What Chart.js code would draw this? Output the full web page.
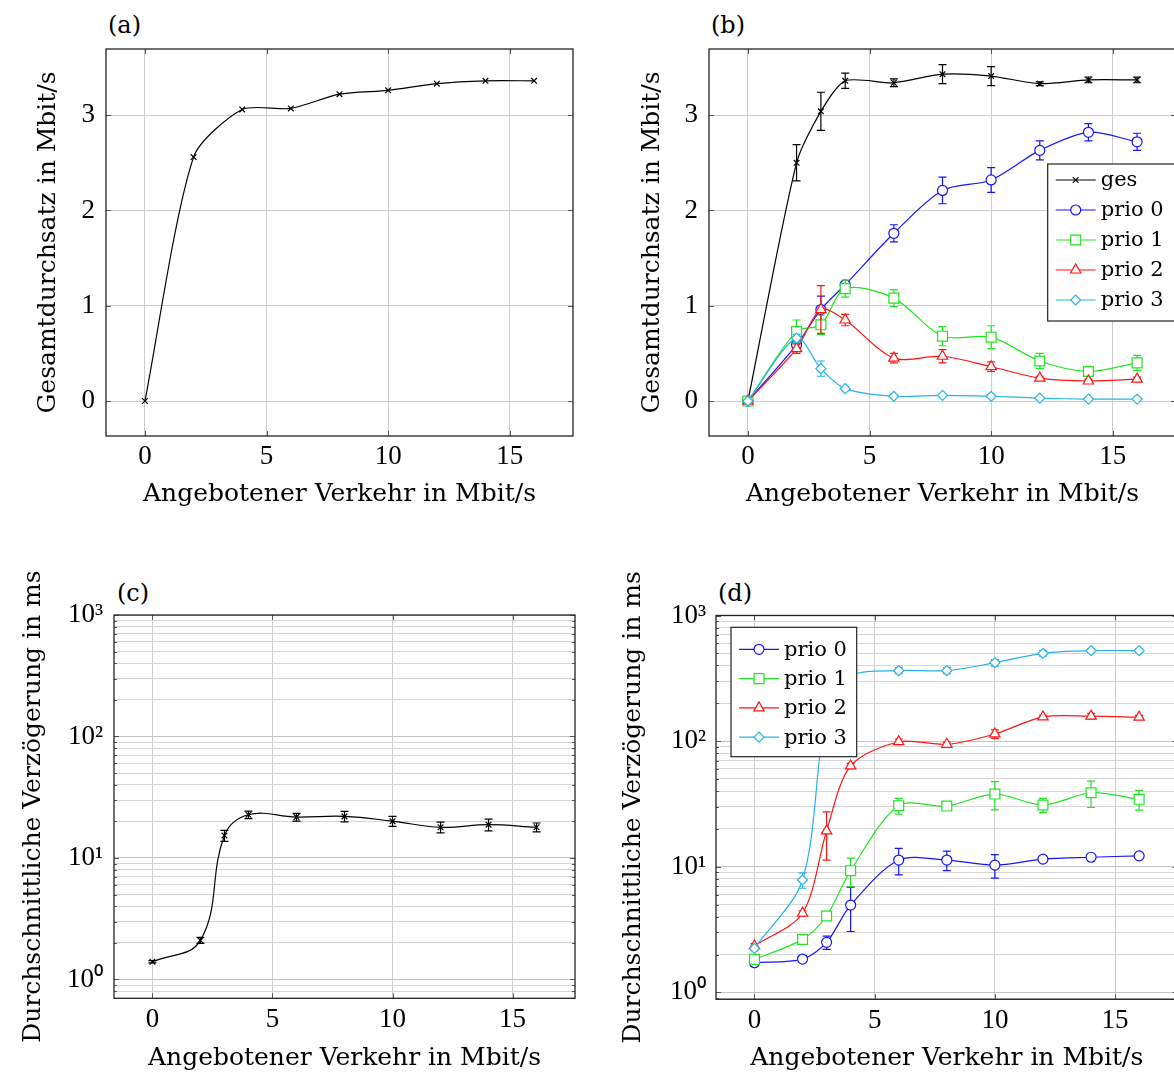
<!DOCTYPE html>
<html>
<head>
<meta charset="utf-8">
<script src="https://cdn.jsdelivr.net/npm/chart.js@4.4.1/dist/chart.umd.min.js"></script>
<style>
  html, body { margin: 0; padding: 0; background: #fff; overflow: hidden; }
  body { width: 1174px; height: 1075px; position: relative; }
  canvas { position: absolute; }
  .tag { position: absolute; font-family: 'DejaVu Serif'; font-size: 24px; line-height: 1; color: #000; }
</style>
</head>
<body>
<div class="tag" style="left:108px;top:13px">(a)</div>
<div class="tag" style="left:711px;top:13px">(b)</div>
<div class="tag" style="left:117px;top:581px">(c)</div>
<div class="tag" style="left:718px;top:581px">(d)</div>
<canvas id="chart-a" style="left:0;top:0" width="600" height="530"></canvas>
<canvas id="chart-b" style="left:600px;top:0" width="600" height="530"></canvas>
<canvas id="chart-c" style="left:0;top:540px" width="600" height="535"></canvas>
<canvas id="chart-d" style="left:600px;top:540px" width="600" height="535"></canvas>
<script>
// offered load (Mbit/s)
const loadA = [0, 2, 4, 6, 8, 10, 12, 14, 16];
const loadB = [0, 2, 3, 4, 6, 8, 10, 12, 14, 16];

// (a) total throughput
const thrTotalA = [0, 2.56, 3.06, 3.07, 3.22, 3.26, 3.33, 3.36, 3.36];

// (b) throughput per priority (Mbit/s) and error bars
const thrGes   = [0, 2.50, 3.04, 3.36, 3.34, 3.43, 3.41, 3.33, 3.37, 3.37];
const thrGesErr = [0, 0.19, 0.20, 0.08, 0.04, 0.10, 0.10, 0.02, 0.03, 0.03];
const thrP0    = [0, 0.59, 0.96, 1.22, 1.76, 2.21, 2.32, 2.63, 2.82, 2.72];
const thrP0Err = [0, 0.05, 0.14, 0.03, 0.09, 0.14, 0.13, 0.10, 0.09, 0.09];
const thrP1    = [0, 0.73, 0.80, 1.18, 1.08, 0.68, 0.67, 0.42, 0.31, 0.40];
const thrP1Err = [0, 0.12, 0.10, 0.09, 0.09, 0.10, 0.12, 0.08, 0.05, 0.08];
const thrP2    = [0, 0.55, 0.96, 0.85, 0.45, 0.47, 0.36, 0.24, 0.21, 0.23];
const thrP2Err = [0, 0.05, 0.25, 0.06, 0.05, 0.07, 0.05, 0.02, 0.02, 0.02];
const thrP3    = [0, 0.66, 0.34, 0.13, 0.05, 0.06, 0.05, 0.03, 0.02, 0.02];
const thrP3Err = [0, 0.04, 0.08, 0.02, 0.01, 0.01, 0.01, 0.01, 0.01, 0.01];

// (c) average delay (ms)
const delayTotal    = [1.40, 2.10, 15.3, 22.7, 21.7, 22.0, 20.1, 17.9, 18.8, 17.9];
const delayTotalErr = [0.03, 0.12, 1.6, 1.6, 1.6, 2.2, 1.9, 1.8, 2.1, 1.5];

// (d) average delay per priority (ms)
const delayP0    = [1.72, 1.84, 2.50, 4.95, 11.3, 11.3, 10.3, 11.5, 11.9, 12.2];
const delayP0Err = [0.03, 0.10, 0.30, 1.9, 2.7, 2.0, 2.2, 0.3, 0.3, 0.3];
const delayP1    = [1.83, 2.64, 4.05, 9.3, 30.6, 30.4, 37.9, 31.0, 38.8, 34.4];
const delayP1Err = [0.05, 0.10, 0.15, 2.4, 4.4, 2.0, 9.6, 4.0, 9.2, 6.2];
const delayP2    = [2.34, 4.26, 19.3, 63.4, 98.9, 94.3, 114, 156, 158, 155];
const delayP2Err = [0.10, 0.20, 8, 3, 5, 4, 9, 5, 8, 5];
const delayP3    = [2.24, 7.84, 170, 330, 364, 364, 421, 500, 525, 525];
const delayP3Err = [0.10, 1.1, 0, 0, 20, 20, 25, 25, 20, 20];

// axis ticks
const xTicks = [0, 5, 10, 15];
const yTicksLin = [0, 1, 2, 3];
const logDecades = [0.1, 1, 10, 100];
const logTop = 1000;
const supDigits = ['⁰', '¹', '²', '³'];

const C = { ges: '#000000', p0: '#1414ff', p1: '#1ee61e', p2: '#ff1414', p3: '#26b3ea' };

const SERIF = 'DejaVu Serif';
const TICKFONT = 'Liberation Serif';
const TICKSIZE = 27;
const xTitle = 'Angebotener Verkehr in Mbit/s';

Chart.defaults.font.family = TICKFONT;
Chart.defaults.color = '#000';

const pts = (xs, ys) => xs.map((x, i) => ({ x, y: ys[i] }));

const logTicks = [];
logDecades.forEach(d => { for (let k = 1; k <= 9; k++) logTicks.push(+(k * d).toPrecision(3)); });
logTicks.push(logTop);
const isMajorLog = v => Math.abs(Math.log10(v) - Math.round(Math.log10(v))) < 1e-9;

function series(label, xs, ys, errs, color, style, radius, order, tension) {
    return {
        label, data: pts(xs, ys), errors: errs,
        borderColor: color, backgroundColor: '#fff',
        borderWidth: 1.2, pointStyle: style, pointRadius: radius,
        pointBorderWidth: 1.2, pointBorderColor: color, pointBackgroundColor: '#fff',
        tension: tension ?? 0.3, order
    };
}

// frame, error bars and in-plot legend
const framePlugin = {
    id: 'frame',
    beforeDatasetDraw(chart, args) {
        const ds = chart.data.datasets[args.index];
        if (!ds.errors) return;
        const { ctx, chartArea: a, scales: { x, y } } = chart;
        ctx.save();
        ctx.beginPath(); ctx.rect(a.left, a.top, a.width, a.height); ctx.clip();
        ctx.strokeStyle = ds.borderColor; ctx.lineWidth = 1.2;
        ds.data.forEach((p, i) => {
            const e = ds.errors[i];
            if (!e) return;
            const px = x.getPixelForValue(p.x);
            const lo = y.type === 'logarithmic' ? Math.max(p.y - e, 0.01) : p.y - e;
            const y1 = y.getPixelForValue(lo), y2 = y.getPixelForValue(p.y + e);
            ctx.beginPath();
            ctx.moveTo(px, y1); ctx.lineTo(px, y2);
            ctx.moveTo(px - 4, y1); ctx.lineTo(px + 4, y1);
            ctx.moveTo(px - 4, y2); ctx.lineTo(px + 4, y2);
            ctx.stroke();
        });
        ctx.restore();
    },
    afterDraw(chart, args, opts) {
        const { ctx, chartArea: a, scales: { x, y } } = chart;
        ctx.save();
        // tick stubs on all sides
        ctx.strokeStyle = '#555'; ctx.lineWidth = 1;
        ctx.beginPath();
        x.ticks.forEach(t => {
            const px = Math.round(x.getPixelForValue(t.value)) + 0.5;
            ctx.moveTo(px, a.bottom); ctx.lineTo(px, a.bottom - 5);
            ctx.moveTo(px, a.top); ctx.lineTo(px, a.top + 5);
        });
        y.ticks.forEach(t => {
            const len = t.label ? 5 : 3;
            const py = Math.round(y.getPixelForValue(t.value)) + 0.5;
            ctx.moveTo(a.left, py); ctx.lineTo(a.left + len, py);
            ctx.moveTo(a.right, py); ctx.lineTo(a.right - len, py);
        });
        ctx.stroke();
        // plot frame
        ctx.strokeStyle = '#222'; ctx.lineWidth = 1.3;
        ctx.strokeRect(a.left, a.top, a.right - a.left, a.bottom - a.top);

        const lg = opts.legend;
        if (lg) {
            const bx = a.left + lg.dx, by = a.top + lg.dy;
            ctx.fillStyle = '#fff';
            ctx.fillRect(bx, by, lg.w, lg.h);
            ctx.strokeStyle = '#222'; ctx.lineWidth = 1.2;
            ctx.strokeRect(bx, by, lg.w, lg.h);
            ctx.font = `21px '${SERIF}'`;
            ctx.textBaseline = 'middle';
            chart.data.datasets.forEach((ds, i) => {
                const ry = by + lg.first + i * lg.row;
                ctx.strokeStyle = ds.borderColor; ctx.lineWidth = 1.2;
                ctx.beginPath(); ctx.moveTo(bx + 8, ry); ctx.lineTo(bx + 48, ry); ctx.stroke();
                ctx.fillStyle = '#fff';
                Chart.helpers.drawPoint(ctx, { pointStyle: ds.pointStyle, radius: ds.pointRadius, borderWidth: 1.2, rotation: 0 }, bx + 28, ry);
                ctx.fillStyle = '#000';
                ctx.fillText(ds.label, bx + 53, ry + 1);
            });
        }
        ctx.restore();
    }
};

function linY(width, titlePad, yTitle) {
    return {
        type: 'linear', min: -0.367, max: 3.694,
        afterBuildTicks: s => { s.ticks = yTicksLin.map(v => ({ value: v })); },
        afterFit: s => { s.width = width; },
        ticks: { padding: 11, font: { size: TICKSIZE }, color: '#000' },
        grid: { color: '#cccccc', lineWidth: 1, drawTicks: false },
        border: { display: false },
        title: { display: true, text: yTitle, font: { family: SERIF, size: 25 }, padding: { top: titlePad, bottom: 0 }, color: '#000' }
    };
}

function logY(width, min, titlePad, tickPad) {
    return {
        type: 'logarithmic', min, max: logTop,
        afterBuildTicks: s => { s.ticks = logTicks.filter(v => v >= s.min && v <= s.max).map(v => ({ value: v, major: isMajorLog(v) })); },
        afterFit: s => { s.width = width; },
        ticks: {
            autoSkip: false, padding: tickPad, font: { size: TICKSIZE }, color: '#000',
            callback: v => isMajorLog(v) ? '10' + supDigits[Math.round(Math.log10(v))] : ''
        },
        grid: { color: c => (c.tick && isMajorLog(c.tick.value)) ? '#c4c4c4' : '#d6d6d6', lineWidth: 1, drawTicks: false },
        border: { display: false },
        title: { display: true, text: 'Durchschnittliche Verzögerung in ms', font: { family: SERIF, size: 25 }, padding: { top: titlePad, bottom: 0 }, color: '#000' }
    };
}

function xAxis(height, titlePadBottom) {
    return {
        type: 'linear', min: -1.6, max: 17.6,
        afterBuildTicks: s => { s.ticks = xTicks.map(v => ({ value: v })); },
        afterFit: s => { s.height = height; },
        ticks: { padding: 5, font: { size: TICKSIZE }, color: '#000', maxRotation: 0 },
        grid: { color: '#cccccc', lineWidth: 1, drawTicks: false },
        border: { display: false },
        title: { display: true, text: xTitle, font: { family: SERIF, size: 25 }, padding: { top: 0, bottom: titlePadBottom }, color: '#000' }
    };
}

const baseOpts = {
    responsive: false, animation: false, events: [],
    plugins: { legend: { display: false }, tooltip: { enabled: false } }
};

// (a)
new Chart(document.getElementById('chart-a'), {
    type: 'line',
    data: { datasets: [series('ges', loadA, thrTotalA, null, C.ges, 'crossRot', 4, 0, 0.25)] },
    options: {
        ...baseOpts,
        layout: { padding: { top: 49, right: 27, left: 0, bottom: 0 } },
        scales: { x: xAxis(94, 21), y: linY(106, 33, 'Gesamtdurchsatz in Mbit/s') }
    },
    plugins: [framePlugin]
});

// (b)
new Chart(document.getElementById('chart-b'), {
    type: 'line',
    data: {
        datasets: [
            series('ges', loadB, thrGes, thrGesErr, C.ges, 'crossRot', 4, 4, 0.25),
            series('prio 0', loadB, thrP0, thrP0Err, C.p0, 'circle', 5, 3),
            series('prio 1', loadB, thrP1, thrP1Err, C.p1, 'rect', 7, 2),
            series('prio 2', loadB, thrP2, thrP2Err, C.p2, 'triangle', 6, 1),
            series('prio 3', loadB, thrP3, thrP3Err, C.p3, 'rectRot', 5, 0)
        ]
    },
    options: {
        ...baseOpts,
        layout: { padding: { top: 49, right: 24, left: 0, bottom: 0 } },
        scales: { x: xAxis(94, 21), y: linY(109, 37, 'Gesamtdurchsatz in Mbit/s') },
        plugins: { ...baseOpts.plugins, frame: { legend: { dx: 338.7, dy: 115, w: 140, h: 157, first: 16, row: 30 } } }
    },
    plugins: [framePlugin]
});

// (c)
new Chart(document.getElementById('chart-c'), {
    type: 'line',
    data: { datasets: [series('ges', loadB, delayTotal, delayTotalErr, C.ges, 'crossRot', 4, 0, 0.4)] },
    options: {
        ...baseOpts,
        layout: { padding: { top: 75, right: 25, left: 0, bottom: 0 } },
        scales: { x: xAxis(76.7, 2), y: logY(114, 0.72, 18, 11) }
    },
    plugins: [framePlugin]
});

// (d)
new Chart(document.getElementById('chart-d'), {
    type: 'line',
    data: {
        datasets: [
            series('prio 0', loadB, delayP0, delayP0Err, C.p0, 'circle', 5, 3),
            series('prio 1', loadB, delayP1, delayP1Err, C.p1, 'rect', 7, 2),
            series('prio 2', loadB, delayP2, delayP2Err, C.p2, 'triangle', 6, 1),
            series('prio 3', loadB, delayP3, delayP3Err, C.p3, 'rectRot', 5, 0)
        ]
    },
    options: {
        ...baseOpts,
        layout: { padding: { top: 75.5, right: 22.4, left: 0, bottom: 0 } },
        scales: { x: xAxis(75.7, 2), y: logY(116, 0.88, 18, 10) },
        plugins: { ...baseOpts.plugins, frame: { legend: { dx: 15, dy: 11.8, w: 125.7, h: 129.4, first: 22, row: 29.3 } } }
    },
    plugins: [framePlugin]
});
</script>
</body>
</html>
